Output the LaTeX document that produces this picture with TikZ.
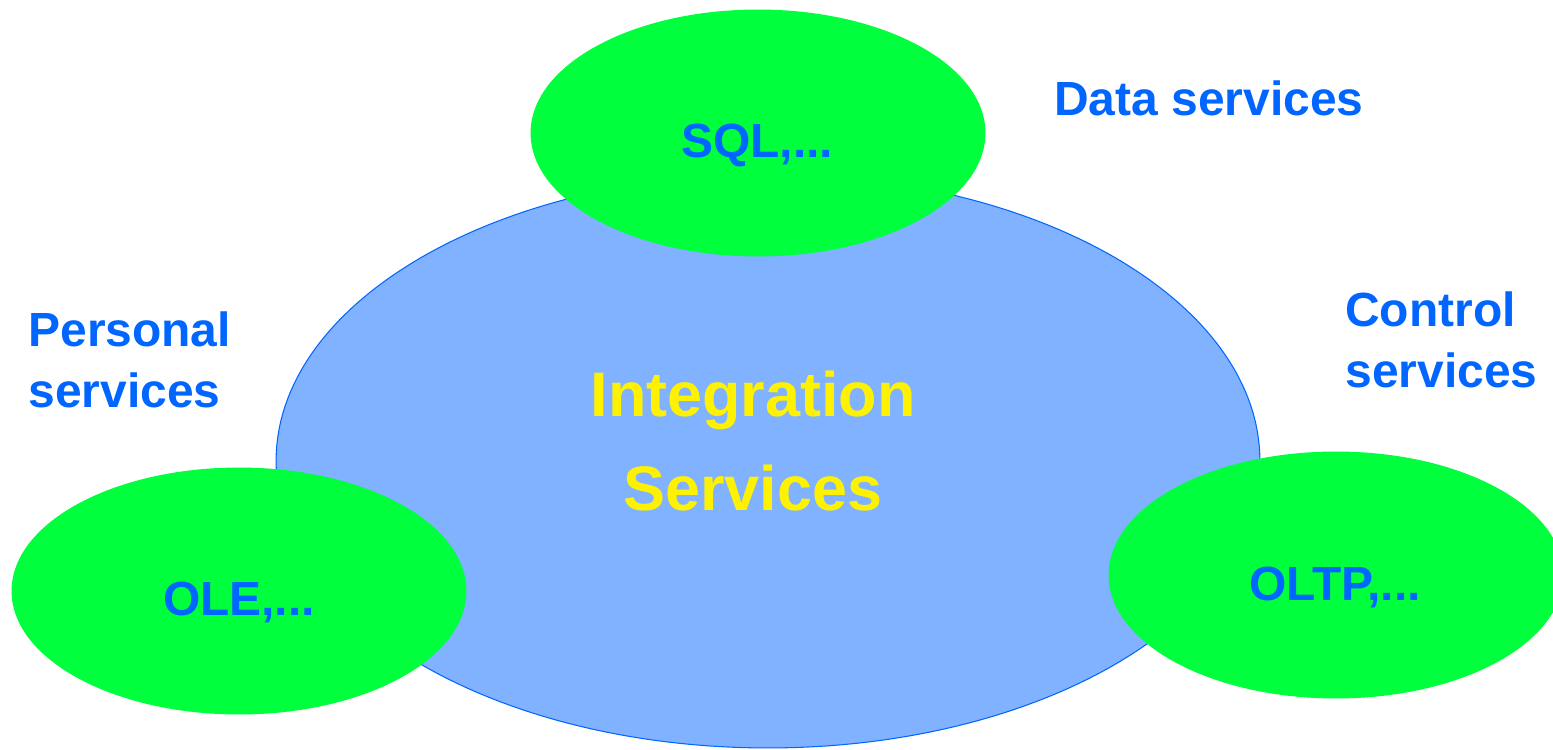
\documentclass[tikz,border=0pt]{standalone}
\usepackage{fontspec}
\setmainfont{Liberation Sans}
\usetikzlibrary{shapes.geometric}

\definecolor{azulc}{RGB}{128,178,255}
\definecolor{azul}{RGB}{0,102,255}
\definecolor{verde}{RGB}{0,255,60}
\definecolor{amarillo}{RGB}{255,242,0}

\begin{document}
\begin{tikzpicture}[x=0.02cm, y=-0.02cm,
  core/.style={ellipse, draw=azul, line width=0.6pt, fill=azulc, inner sep=0pt},
  servg/.style={ellipse, fill=verde, inner sep=0pt, minimum width=9.1cm, minimum height=4.94cm},
  lbl/.style={text=azul, font=\bfseries\fontsize{27.3}{34.2}\selectfont, inner sep=0pt},
  lblint/.style={text=amarillo, font=\bfseries\fontsize{35.8}{53}\selectfont, inner sep=0pt, align=center}]

\clip (0,0) rectangle (1553,750); %marco

				\node [core, minimum width=19.68cm, minimum height=11.48cm] (integ) at (768,461) {};
				\node [servg] (sql) at (758,133) {};
				\node [servg] (ole) at (239,591) {};
				\node [servg] (oltp) at (1336,575) {};

				\node [lblint, anchor=base] (tinteg) at (753,510) {Integration\\Services};
				\node [lbl, anchor=base] (tsql) at (757,157) {SQL,...};
				\node [lbl, anchor=base] (tole) at (239,615) {OLE,...};
				\node [lbl, anchor=base] (toltp) at (1335,600) {OLTP,...};

				%etiquetas de servicios
				\node [lbl, anchor=base west] (tdata) at (1054,116) {Data services};
				\node [lbl, anchor=base west, align=left] (tpers) at (28,407) {Personal\\services};
				\node [lbl, anchor=base west, align=left] (tcontrol) at (1345,387) {Control\\services};

\end{tikzpicture}
\end{document}
